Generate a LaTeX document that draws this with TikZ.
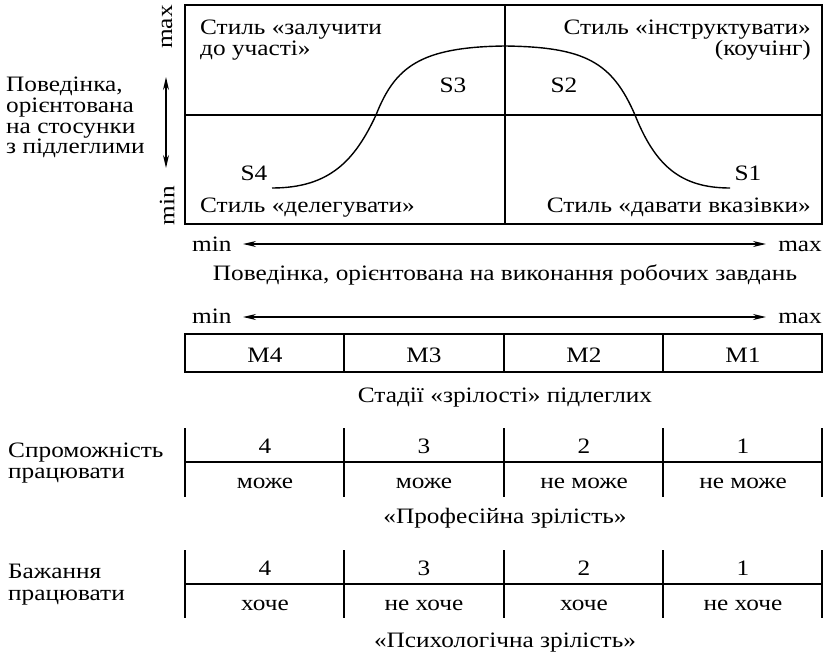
\documentclass[tikz,border=0pt]{standalone}
\usepackage{fontspec}
\setmainfont[FakeStretch=1.15]{Liberation Serif}
\usetikzlibrary{arrows.meta}
\begin{document}
\begin{tikzpicture}[x=1pt,y=-1pt,
  txt/.style={inner sep=0pt,font=\fontsize{22}{21}\selectfont},
  lft/.style={txt,anchor=base west},
  rgt/.style={txt,anchor=base east},
  mid/.style={txt,anchor=base},
  frame/.style={line width=1.6pt},
  rule/.style={line width=1.3pt},
  axis/.style={line width=1.4pt,{Stealth[length=13pt,width=6pt]}-{Stealth[length=13pt,width=6pt]}}]
\useasboundingbox (0,0) rectangle (824,653);

% quadrant grid
\coordinate (q-nw) at (185,5);
\coordinate (q-se) at (822,224);
\draw[frame] (q-nw) rectangle (q-se);
\draw[frame] (505,5) -- (505,224);
\draw[frame] (185,115) -- (822,115);

% style curve
\draw[line width=1.4pt] (272,188) .. controls (330,188) and (355,160) .. (376,115)
  .. controls (395,67) and (420,47) .. (505,46)
  .. controls (585,47) and (612,62) .. (635,115)
  .. controls (655,165) and (680,188) .. (730,188);

% quadrant labels
\node[lft] (tl1) at (200,34) {Стиль «залучити};
\node[lft] (tl2) at (200,55) {до участі»};
\node[rgt] (tr1) at (811,34) {Стиль «інструктувати»};
\node[rgt] (tr2) at (811,55) {(коучінг)};
\node[lft] (bl) at (200,212) {Стиль «делегувати»};
\node[rgt] (br) at (811,212) {Стиль «давати вказівки»};
\node[mid] (s4) at (254,180) {S4};
\node[mid] (s3) at (453,92) {S3};
\node[mid] (s2) at (564,92) {S2};
\node[mid] (s1) at (748,180) {S1};

% vertical axis
\node[txt,rotate=90] (vmax) at (167,27) {max};
\node[txt,rotate=90] (vmin) at (167,206) {min};
\coordinate (vtop) at (166,77);
\coordinate (vbot) at (166,168);
\draw[axis] (vtop) -- (vbot);
\node[lft] (v1) at (6,91) {Поведінка,};
\node[lft] (v2) at (6,112) {орієнтована};
\node[lft] (v3) at (6,133) {на стосунки};
\node[lft] (v4) at (6,153) {з підлеглими};

% horizontal axis
\node[lft] (hmin) at (192,251) {min};
\node[rgt] (hmax) at (822,251) {max};
\coordinate (ha) at (243,244);
\coordinate (hb) at (766,244);
\draw[axis] (ha) -- (hb);
\node[mid] (hcap) at (505,280) {Поведінка, орієнтована на виконання робочих завдань};

% maturity scale
\node[lft] (mmin) at (192,323) {min};
\node[rgt] (mmax) at (822,323) {max};
\coordinate (ma) at (243,317);
\coordinate (mb) at (766,317);
\draw[axis] (ma) -- (mb);
\draw[rule] (185,334) rectangle (822,372);
\foreach \x in {344,504,663} \draw[rule] (\x,334) -- (\x,372);
\node[mid] (m4) at (265,362) {M4};
\node[mid] (m3) at (424,362) {M3};
\node[mid] (m2) at (584,362) {M2};
\node[mid] (m1) at (743,362) {M1};
\node[mid] (mcap) at (505,402) {Стадії «зрілості» підлеглих};

% ability
\node[lft] (a1) at (8,457) {Спроможність};
\node[lft] (a2) at (8,478) {працювати};
\foreach \x in {185,344,504,663,822} \draw[rule] (\x,428) -- (\x,497);
\draw[rule] (185,462) -- (822,462);
\node[mid] (a4) at (265,453) {4};
\node[mid] (a3) at (424,453) {3};
\node[mid] (a2n) at (584,453) {2};
\node[mid] (a1n) at (743,453) {1};
\node[mid] (aw4) at (265,488) {може};
\node[mid] (aw3) at (424,488) {може};
\node[mid] (aw2) at (584,488) {не може};
\node[mid] (aw1) at (743,488) {не може};
\node[mid] (acap) at (505,523) {«Професійна зрілість»};

% willingness
\node[lft] (w1) at (8,578) {Бажання};
\node[lft] (w2) at (8,600) {працювати};
\foreach \x in {185,344,504,663,822} \draw[rule] (\x,550) -- (\x,618);
\draw[rule] (185,584) -- (822,584);
\node[mid] (w4) at (265,575) {4};
\node[mid] (w3) at (424,575) {3};
\node[mid] (w2n) at (584,575) {2};
\node[mid] (w1n) at (743,575) {1};
\node[mid] (ww4) at (265,610) {хоче};
\node[mid] (ww3) at (424,610) {не хоче};
\node[mid] (ww2) at (584,610) {хоче};
\node[mid] (ww1) at (743,610) {не хоче};
\node[mid] (wcap) at (505,647) {«Психологічна зрілість»};
\end{tikzpicture}
\end{document}
